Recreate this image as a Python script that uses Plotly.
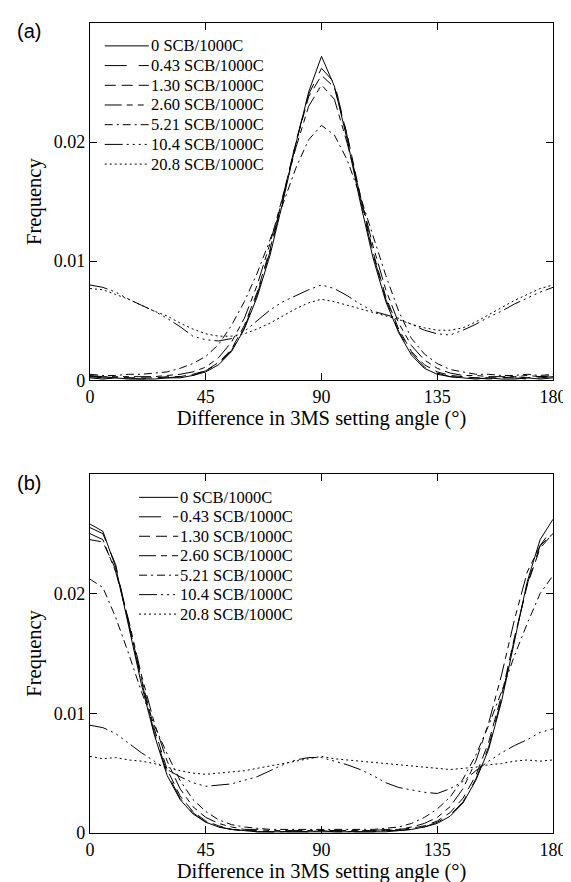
import plotly.graph_objects as go

# ---------------- data ----------------
angles = [0, 5, 10, 15, 20, 25, 30, 35, 40, 45, 50, 55, 60, 65, 70, 75, 80, 85, 90,
          95, 100, 105, 110, 115, 120, 125, 130, 135, 140, 145, 150, 155, 160, 165, 170, 175, 180]

series_names = ["0 SCB/1000C", "0.43 SCB/1000C", "1.30 SCB/1000C", "2.60 SCB/1000C",
                "5.21 SCB/1000C", "10.4 SCB/1000C", "20.8 SCB/1000C"]

# panel (a)
a_0 = [0.0002,0.0001,0.0002,0.0001,0.0001,0.0001,0.0002,0.0002,0.0004,0.0007,0.0013,0.0024,0.0043,0.0070,0.0105,0.0150,0.0198,0.0242,0.0272,0.0247,0.0202,0.0150,0.0103,0.0066,0.0040,0.0021,0.0010,0.0005,0.0003,0.0002,0.0001,0.0002,0.0001,0.0001,0.0002,0.0001,0.0002]
a_043 = [0.0003,0.0002,0.0002,0.0002,0.0001,0.0002,0.0002,0.0003,0.0004,0.0008,0.0014,0.0025,0.0044,0.0072,0.0108,0.0152,0.0200,0.0240,0.0262,0.0250,0.0205,0.0153,0.0106,0.0068,0.0041,0.0023,0.0011,0.0006,0.0003,0.0002,0.0002,0.0001,0.0002,0.0002,0.0001,0.0002,0.0003]
a_130 = [0.0003,0.0003,0.0002,0.0002,0.0002,0.0002,0.0003,0.0003,0.0005,0.0008,0.0015,0.0026,0.0046,0.0074,0.0110,0.0154,0.0199,0.0238,0.0256,0.0246,0.0206,0.0156,0.0108,0.0070,0.0043,0.0024,0.0013,0.0007,0.0004,0.0003,0.0002,0.0002,0.0002,0.0003,0.0002,0.0003,0.0003]
a_260 = [0.0004,0.0003,0.0003,0.0003,0.0003,0.0003,0.0004,0.0005,0.0007,0.0011,0.0019,0.0032,0.0052,0.0080,0.0115,0.0155,0.0195,0.0230,0.0248,0.0236,0.0199,0.0156,0.0113,0.0076,0.0048,0.0029,0.0017,0.0010,0.0006,0.0004,0.0004,0.0003,0.0003,0.0003,0.0004,0.0003,0.0004]
a_521 = [0.0005,0.0004,0.0004,0.0005,0.0005,0.0006,0.0007,0.0010,0.0014,0.0020,0.0030,0.0046,0.0066,0.0090,0.0118,0.0148,0.0178,0.0202,0.0214,0.0206,0.0185,0.0155,0.0122,0.0088,0.0058,0.0035,0.0022,0.0014,0.0009,0.0007,0.0005,0.0005,0.0004,0.0004,0.0005,0.0004,0.0005]
a_104 = [0.0080,0.0078,0.0074,0.0068,0.0063,0.0058,0.0052,0.0045,0.0037,0.0034,0.0033,0.0035,0.0041,0.0050,0.0059,0.0066,0.0071,0.0076,0.0080,0.0077,0.0071,0.0064,0.0058,0.0055,0.0052,0.0047,0.0042,0.0039,0.0038,0.0042,0.0047,0.0053,0.0058,0.0064,0.0069,0.0074,0.0078]
a_208 = [0.0077,0.0076,0.0072,0.0068,0.0063,0.0058,0.0054,0.0048,0.0043,0.0039,0.0037,0.0037,0.0039,0.0043,0.0048,0.0054,0.0060,0.0065,0.0068,0.0066,0.0063,0.0060,0.0057,0.0054,0.0051,0.0047,0.0044,0.0042,0.0042,0.0044,0.0049,0.0055,0.0061,0.0067,0.0072,0.0077,0.0080]

# panel (b)
b_0 = [0.0258,0.0252,0.0222,0.0172,0.0124,0.0082,0.0048,0.0028,0.0016,0.0009,0.0005,0.0003,0.0002,0.0001,0.0001,0.0001,0.0001,0.0001,0.0001,0.0001,0.0001,0.0001,0.0001,0.0001,0.0002,0.0003,0.0005,0.0008,0.0014,0.0025,0.0044,0.0070,0.0110,0.0160,0.0210,0.0245,0.0262]
b_043 = [0.0255,0.0250,0.0224,0.0175,0.0127,0.0084,0.0050,0.0029,0.0017,0.0009,0.0005,0.0003,0.0002,0.0001,0.0001,0.0001,0.0001,0.0001,0.0002,0.0001,0.0001,0.0001,0.0001,0.0002,0.0002,0.0003,0.0005,0.0009,0.0015,0.0026,0.0045,0.0072,0.0112,0.0162,0.0208,0.0240,0.0255]
b_130 = [0.0245,0.0243,0.0220,0.0176,0.0129,0.0087,0.0053,0.0031,0.0018,0.0010,0.0006,0.0003,0.0002,0.0002,0.0001,0.0001,0.0002,0.0001,0.0002,0.0002,0.0001,0.0002,0.0002,0.0002,0.0003,0.0004,0.0006,0.0010,0.0017,0.0029,0.0048,0.0076,0.0115,0.0163,0.0207,0.0238,0.0250]
b_260 = [0.0250,0.0245,0.0218,0.0178,0.0132,0.0092,0.0060,0.0037,0.0022,0.0013,0.0008,0.0005,0.0003,0.0003,0.0002,0.0002,0.0002,0.0002,0.0002,0.0002,0.0002,0.0002,0.0002,0.0003,0.0003,0.0005,0.0008,0.0013,0.0022,0.0037,0.0060,0.0092,0.0132,0.0178,0.0218,0.0240,0.0250]
b_521 = [0.0212,0.0205,0.0180,0.0150,0.0118,0.0090,0.0066,0.0044,0.0028,0.0018,0.0011,0.0007,0.0005,0.0004,0.0003,0.0003,0.0003,0.0003,0.0003,0.0003,0.0003,0.0003,0.0003,0.0004,0.0005,0.0008,0.0013,0.0020,0.0030,0.0045,0.0065,0.0090,0.0118,0.0148,0.0175,0.0200,0.0215]
b_104 = [0.0090,0.0088,0.0083,0.0075,0.0067,0.0060,0.0053,0.0047,0.0042,0.0039,0.0040,0.0041,0.0044,0.0047,0.0052,0.0057,0.0061,0.0063,0.0063,0.0060,0.0057,0.0053,0.0048,0.0042,0.0038,0.0036,0.0034,0.0033,0.0037,0.0043,0.0052,0.0060,0.0067,0.0073,0.0078,0.0084,0.0087]
b_208 = [0.0064,0.0062,0.0063,0.0061,0.0060,0.0058,0.0055,0.0052,0.0050,0.0049,0.0050,0.0051,0.0052,0.0054,0.0056,0.0058,0.0060,0.0062,0.0064,0.0062,0.0061,0.0060,0.0059,0.0058,0.0057,0.0056,0.0055,0.0054,0.0053,0.0054,0.0055,0.0057,0.0058,0.0060,0.0061,0.0060,0.0061]

x_ticks = [0, 45, 90, 135, 180]
y_ticks = [0, 0.01, 0.02]
y_ticktext = ["0", "0.01", "0.02"]

panel_a = [a_0, a_043, a_130, a_260, a_521, a_104, a_208]
panel_b = [b_0, b_043, b_130, b_260, b_521, b_104, b_208]

# ---------------- styles ----------------
dashes = ["solid", "22px,12px", "11px,6px", "17px,5px,6px,5px,6px,5px",
          "8px,4px,2px,4px", "18px,4px,2px,4px,2px,4px,2px,4px,2px,4px", "2px,3px"]

SERIF = "Liberation Serif, Times New Roman, serif"
SANS = "Liberation Sans, Arial, sans-serif"

W, H = 571, 882
ML, MR, MT, MB = 82, 17, 15, 53
PW = W - ML - MR
PH = H - MT - MB
A_TOP, A_BOT = 15, 374
B_TOP, B_BOT = 468, 829
dom_a = [(H - MB - A_BOT) / PH, (H - MB - A_TOP) / PH]
dom_b = [(H - MB - B_BOT) / PH, (H - MB - B_TOP) / PH]

fig = go.Figure()
for i, name in enumerate(series_names):
    fig.add_trace(go.Scatter(x=angles, y=panel_a[i], mode="lines", name=name,
                             line=dict(color="black", width=1, dash=dashes[i]),
                             xaxis="x", yaxis="y", showlegend=False))
    fig.add_trace(go.Scatter(x=angles, y=panel_b[i], mode="lines", name=name,
                             line=dict(color="black", width=1, dash=dashes[i]),
                             xaxis="x2", yaxis="y2", showlegend=False))

axis_common = dict(showline=True, linecolor="black", linewidth=1.3, mirror="ticks",
                   ticks="inside", ticklen=7, tickwidth=1, tickcolor="black",
                   showgrid=False, zeroline=False,
                   tickfont=dict(family=SERIF, size=18, color="black"))

xcfg = dict(axis_common, range=[0, 180], tickmode="array", tickvals=x_ticks,
            title=dict(text="Difference in 3MS setting angle (°)",
                       font=dict(family=SERIF, size=20.5, color="black"), standoff=4))
ycfg = dict(axis_common, range=[0, 0.0300], tickmode="array", tickvals=y_ticks,
            ticktext=y_ticktext,
            title=dict(text="Frequency", font=dict(family=SERIF, size=20.5, color="black"),
                       standoff=6))

fig.update_layout(
    width=W, height=H,
    margin=dict(l=ML, r=MR, t=MT, b=MB, pad=0),
    paper_bgcolor="white", plot_bgcolor="white",
    xaxis=dict(xcfg, domain=[0, 1], anchor="y"),
    yaxis=dict(ycfg, domain=dom_a, anchor="x"),
    xaxis2=dict(xcfg, domain=[0, 1], anchor="y2"),
    yaxis2=dict(ycfg, domain=dom_b, anchor="x2"),
    showlegend=False,
)

# ---------------- manual legends (layout decoration) ----------------
shapes = []
annotations = []


def add_legend(xr, yr, top, bot, x0, x1, xt, y0, dy):
    h = bot - top
    for i, name in enumerate(series_names):
        py = y0 + dy * i
        yd = (bot - py) / h
        shapes.append(dict(type="line", xref=xr, yref=yr,
                           x0=(x0 - ML) / PW, x1=(x1 - ML) / PW, y0=yd, y1=yd,
                           line=dict(color="black", width=1, dash=dashes[i])))
        annotations.append(dict(xref=xr, yref=yr, x=(xt - ML) / PW, y=yd,
                                text=name, showarrow=False, xanchor="left",
                                yanchor="middle",
                                font=dict(family=SERIF, size=16.5, color="black")))


add_legend("x domain", "y domain", A_TOP, A_BOT, 97, 142, 142, 38, 19.8)
add_legend("x2 domain", "y2 domain", B_TOP, B_BOT, 132, 172, 172, 491.7, 19.55)

# panel labels
for lab, py in [("(a)", 23), ("(b)", 477)]:
    annotations.append(dict(xref="paper", yref="paper", x=(20 - ML) / PW,
                            y=(H - MB - py) / PH, text=lab, showarrow=False,
                            xanchor="center", yanchor="middle",
                            font=dict(family=SANS, size=20, color="black")))

fig.update_layout(shapes=shapes, annotations=annotations)

fig.write_html("out.html")
